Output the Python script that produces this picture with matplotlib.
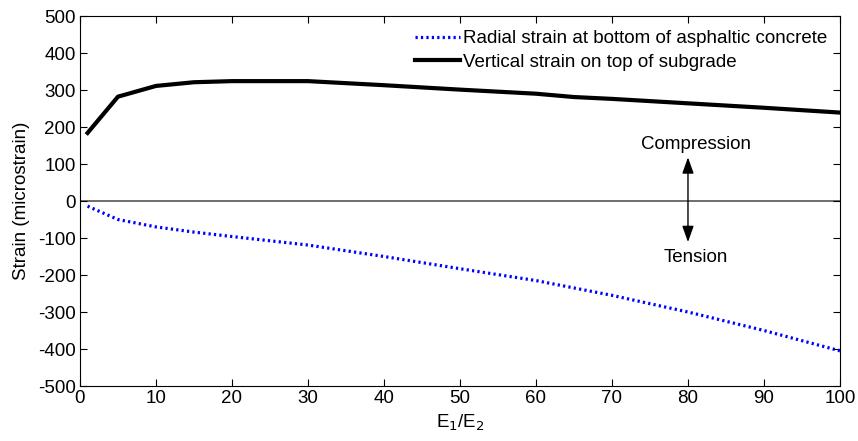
import numpy as np
import matplotlib.pyplot as plt

plt.rcParams['font.family'] = ['Liberation Sans', 'DejaVu Sans']
plt.rcParams['axes.unicode_minus'] = False

# ==========================================================
# DATA
# ==========================================================
ratio_radial = [1, 5, 10, 15, 20, 30, 40, 50, 60, 70, 80, 90, 100]
radial_strain = [-14, -50, -70, -84, -96, -119, -150, -183, -215, -255, -300, -350, -405]

ratio_vertical = [1, 5, 10, 15, 20, 30, 40, 50, 60, 65, 70, 80, 90, 100]
vertical_strain = [184, 282, 311, 321, 324, 324, 313, 301, 290, 281, 276, 264, 252, 239]

FS = 13.5

# ==========================================================
# PLOT
# ==========================================================
fig = plt.figure(figsize=(8.58, 4.41), dpi=100)
ax = fig.add_axes([0.0932, 0.1247, 0.8858, 0.839])

ax.plot(ratio_radial, radial_strain, color='blue', linestyle=(0, (0.7, 1.0)),
        linewidth=2.3, label="Radial strain at bottom of asphaltic concrete")
ax.plot(ratio_vertical, vertical_strain, color='black', linestyle='-',
        linewidth=3, label="Vertical strain on top of subgrade")

ax.axhline(0, color='#555555', linewidth=1.2, zorder=1)

# compression / tension arrow
ax.annotate("", xy=(80, 118), xytext=(80, -111),
            arrowprops=dict(arrowstyle='<|-|>,head_length=0.7,head_width=0.25',
                            color='black', lw=1, mutation_scale=14,
                            shrinkA=0, shrinkB=0))
ax.text(81, 154, "Compression", ha='center', va='center', fontsize=FS)
ax.text(81, -152, "Tension", ha='center', va='center', fontsize=FS)

ax.set_xlim(0, 100)
ax.set_ylim(-500, 500)
ax.set_xticks(np.arange(0, 101, 10))
ax.set_yticks(np.arange(-500, 501, 100))
ax.tick_params(direction='in', top=True, right=True, labelsize=FS,
               length=5, pad=3)

ax.set_xlabel("E$_1$/E$_2$", fontsize=FS, labelpad=4)
ax.set_ylabel("Strain (microstrain)", fontsize=FS, labelpad=6)

ax.legend(loc='upper right', bbox_to_anchor=(0.983, 0.962), fontsize=FS,
          frameon=False, handlelength=2.4, handletextpad=0.15,
          labelspacing=0.35, borderaxespad=0, borderpad=0)

fig.savefig("out.png", dpi=100)
